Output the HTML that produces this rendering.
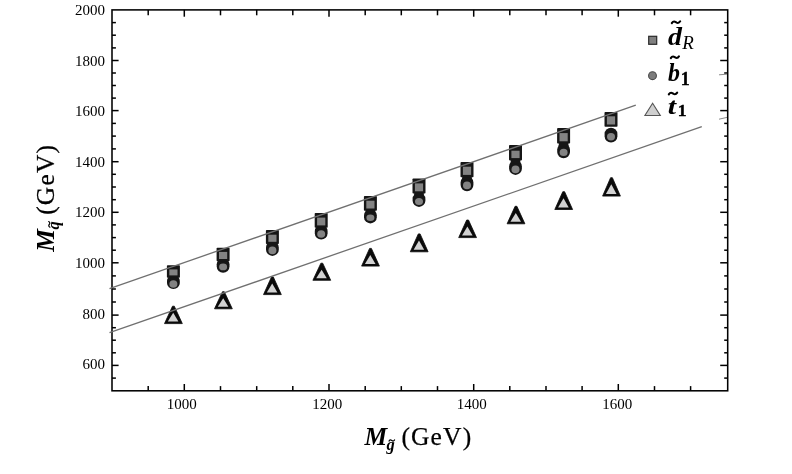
<!DOCTYPE html>
<html><head><meta charset="utf-8"><title>chart</title>
<style>
html,body{margin:0;padding:0;background:#fff;}
body{width:792px;height:474px;overflow:hidden;font-family:"Liberation Serif",serif;}
svg{display:block;will-change:transform;filter:blur(0.4px);}
text{font-family:"Liberation Serif",serif;fill:#000;}
</style></head><body>
<svg width="792" height="474" viewBox="0 0 792 474">
<rect width="792" height="474" fill="#fff"/>
<rect x="112.0" y="9.9" width="615.7" height="380.9" fill="none" stroke="#000" stroke-width="1.55"/>
<g stroke="#000" stroke-width="1.5">
<line x1="148.2" y1="390.8" x2="148.2" y2="386.1"/><line x1="148.2" y1="9.9" x2="148.2" y2="15.3"/>
<line x1="184.3" y1="390.8" x2="184.3" y2="384.0"/><line x1="184.3" y1="9.9" x2="184.3" y2="16.7"/>
<line x1="220.5" y1="390.8" x2="220.5" y2="386.1"/><line x1="220.5" y1="9.9" x2="220.5" y2="15.3"/>
<line x1="256.7" y1="390.8" x2="256.7" y2="386.1"/><line x1="256.7" y1="9.9" x2="256.7" y2="15.3"/>
<line x1="292.8" y1="390.8" x2="292.8" y2="386.1"/><line x1="292.8" y1="9.9" x2="292.8" y2="15.3"/>
<line x1="329.0" y1="390.8" x2="329.0" y2="384.0"/><line x1="329.0" y1="9.9" x2="329.0" y2="16.7"/>
<line x1="365.2" y1="390.8" x2="365.2" y2="386.1"/><line x1="365.2" y1="9.9" x2="365.2" y2="15.3"/>
<line x1="401.3" y1="390.8" x2="401.3" y2="386.1"/><line x1="401.3" y1="9.9" x2="401.3" y2="15.3"/>
<line x1="437.5" y1="390.8" x2="437.5" y2="386.1"/><line x1="437.5" y1="9.9" x2="437.5" y2="15.3"/>
<line x1="473.7" y1="390.8" x2="473.7" y2="384.0"/><line x1="473.7" y1="9.9" x2="473.7" y2="16.7"/>
<line x1="509.8" y1="390.8" x2="509.8" y2="386.1"/><line x1="509.8" y1="9.9" x2="509.8" y2="15.3"/>
<line x1="546.0" y1="390.8" x2="546.0" y2="386.1"/><line x1="546.0" y1="9.9" x2="546.0" y2="15.3"/>
<line x1="582.1" y1="390.8" x2="582.1" y2="386.1"/><line x1="582.1" y1="9.9" x2="582.1" y2="15.3"/>
<line x1="618.3" y1="390.8" x2="618.3" y2="384.0"/><line x1="618.3" y1="9.9" x2="618.3" y2="16.7"/>
<line x1="654.5" y1="390.8" x2="654.5" y2="386.1"/><line x1="654.5" y1="9.9" x2="654.5" y2="15.3"/>
<line x1="690.6" y1="390.8" x2="690.6" y2="386.1"/><line x1="690.6" y1="9.9" x2="690.6" y2="15.3"/>
<line x1="112.0" y1="378.1" x2="115.9" y2="378.1"/><line x1="727.7" y1="378.1" x2="724.2" y2="378.1"/>
<line x1="112.0" y1="365.4" x2="118.6" y2="365.4"/><line x1="727.7" y1="365.4" x2="720.2" y2="365.4"/>
<line x1="112.0" y1="352.8" x2="115.9" y2="352.8"/><line x1="727.7" y1="352.8" x2="724.2" y2="352.8"/>
<line x1="112.0" y1="340.2" x2="115.9" y2="340.2"/><line x1="727.7" y1="340.2" x2="724.2" y2="340.2"/>
<line x1="112.0" y1="327.7" x2="115.9" y2="327.7"/><line x1="727.7" y1="327.7" x2="724.2" y2="327.7"/>
<line x1="112.0" y1="315.1" x2="118.6" y2="315.1"/><line x1="727.7" y1="315.1" x2="720.2" y2="315.1"/>
<line x1="112.0" y1="302.0" x2="115.9" y2="302.0"/><line x1="727.7" y1="302.0" x2="724.2" y2="302.0"/>
<line x1="112.0" y1="289.0" x2="115.9" y2="289.0"/><line x1="727.7" y1="289.0" x2="724.2" y2="289.0"/>
<line x1="112.0" y1="275.9" x2="115.9" y2="275.9"/><line x1="727.7" y1="275.9" x2="724.2" y2="275.9"/>
<line x1="112.0" y1="262.8" x2="118.6" y2="262.8"/><line x1="727.7" y1="262.8" x2="720.2" y2="262.8"/>
<line x1="112.0" y1="250.2" x2="115.9" y2="250.2"/><line x1="727.7" y1="250.2" x2="724.2" y2="250.2"/>
<line x1="112.0" y1="237.6" x2="115.9" y2="237.6"/><line x1="727.7" y1="237.6" x2="724.2" y2="237.6"/>
<line x1="112.0" y1="224.9" x2="115.9" y2="224.9"/><line x1="727.7" y1="224.9" x2="724.2" y2="224.9"/>
<line x1="112.0" y1="212.3" x2="118.6" y2="212.3"/><line x1="727.7" y1="212.3" x2="720.2" y2="212.3"/>
<line x1="112.0" y1="199.7" x2="115.9" y2="199.7"/><line x1="727.7" y1="199.7" x2="724.2" y2="199.7"/>
<line x1="112.0" y1="187.0" x2="115.9" y2="187.0"/><line x1="727.7" y1="187.0" x2="724.2" y2="187.0"/>
<line x1="112.0" y1="174.3" x2="115.9" y2="174.3"/><line x1="727.7" y1="174.3" x2="724.2" y2="174.3"/>
<line x1="112.0" y1="161.7" x2="118.6" y2="161.7"/><line x1="727.7" y1="161.7" x2="720.2" y2="161.7"/>
<line x1="112.0" y1="148.9" x2="115.9" y2="148.9"/><line x1="727.7" y1="148.9" x2="724.2" y2="148.9"/>
<line x1="112.0" y1="136.1" x2="115.9" y2="136.1"/><line x1="727.7" y1="136.1" x2="724.2" y2="136.1"/>
<line x1="112.0" y1="123.4" x2="115.9" y2="123.4"/><line x1="727.7" y1="123.4" x2="724.2" y2="123.4"/>
<line x1="112.0" y1="110.6" x2="118.6" y2="110.6"/><line x1="727.7" y1="110.6" x2="720.2" y2="110.6"/>
<line x1="112.0" y1="98.1" x2="115.9" y2="98.1"/><line x1="727.7" y1="98.1" x2="724.2" y2="98.1"/>
<line x1="112.0" y1="85.5" x2="115.9" y2="85.5"/><line x1="727.7" y1="85.5" x2="724.2" y2="85.5"/>
<line x1="112.0" y1="73.0" x2="115.9" y2="73.0"/><line x1="727.7" y1="73.0" x2="724.2" y2="73.0"/>
<line x1="112.0" y1="60.5" x2="118.6" y2="60.5"/><line x1="727.7" y1="60.5" x2="720.2" y2="60.5"/>
<line x1="112.0" y1="47.9" x2="115.9" y2="47.9"/><line x1="727.7" y1="47.9" x2="724.2" y2="47.9"/>
<line x1="112.0" y1="35.2" x2="115.9" y2="35.2"/><line x1="727.7" y1="35.2" x2="724.2" y2="35.2"/>
<line x1="112.0" y1="22.6" x2="115.9" y2="22.6"/><line x1="727.7" y1="22.6" x2="724.2" y2="22.6"/>
</g>
<g font-size="15">
<text x="181.7" y="409.2" text-anchor="middle">1000</text>
<text x="327.2" y="409.2" text-anchor="middle">1200</text>
<text x="471.7" y="409.2" text-anchor="middle">1400</text>
<text x="617.3" y="409.2" text-anchor="middle">1600</text>
<text x="104.9" y="369.1" text-anchor="end">600</text>
<text x="104.9" y="318.9" text-anchor="end">800</text>
<text x="104.9" y="267.9" text-anchor="end">1000</text>
<text x="104.9" y="217.4" text-anchor="end">1200</text>
<text x="104.9" y="167.2" text-anchor="end">1400</text>
<text x="104.9" y="116.1" text-anchor="end">1600</text>
<text x="104.9" y="65.6" text-anchor="end">1800</text>
<text x="104.9" y="15.2" text-anchor="end">2000</text>
</g>
<g>
<rect x="167.0" y="274.9" width="12.8" height="14.2" rx="6.4" ry="6.2" fill="#161616"/><rect x="168.6" y="276.1" width="9.6" height="1.8" fill="#161616"/><rect x="166.9" y="265.2" width="13" height="12.5" rx="0.8" fill="#161616"/><rect x="169.3" y="269.4" width="8.2" height="6.0" fill="#838383"/><ellipse cx="173.4" cy="284.0" rx="4.0" ry="3.8" fill="#838383"/>
<rect x="216.7" y="258.1" width="12.8" height="14.7" rx="6.4" ry="6.2" fill="#161616"/><rect x="218.3" y="259.7" width="9.6" height="1.4" fill="#161616"/><rect x="216.6" y="247.7" width="13" height="13.6" rx="0.8" fill="#161616"/><rect x="219.0" y="251.9" width="8.2" height="7.1" fill="#838383"/><ellipse cx="223.1" cy="266.9" rx="4.0" ry="3.4" fill="#838383"/>
<rect x="266.0" y="241.3" width="12.8" height="14.6" rx="6.4" ry="6.2" fill="#161616"/><rect x="267.6" y="242.5" width="9.6" height="1.8" fill="#161616"/><rect x="265.9" y="230.1" width="13" height="14.0" rx="0.8" fill="#161616"/><rect x="268.3" y="234.7" width="8.2" height="7.1" fill="#838383"/><ellipse cx="272.4" cy="250.4" rx="4.0" ry="3.8" fill="#838383"/>
<rect x="314.8" y="224.9" width="12.8" height="14.6" rx="6.4" ry="6.2" fill="#161616"/><rect x="316.4" y="226.1" width="9.6" height="1.8" fill="#161616"/><rect x="314.7" y="212.9" width="13" height="14.8" rx="0.8" fill="#161616"/><rect x="317.1" y="217.6" width="8.2" height="7.8" fill="#838383"/><ellipse cx="321.2" cy="234.0" rx="4.0" ry="3.8" fill="#838383"/>
<rect x="364.0" y="209.1" width="12.8" height="14.3" rx="6.4" ry="6.2" fill="#161616"/><rect x="365.6" y="209.2" width="9.6" height="2.9" fill="#161616"/><rect x="363.9" y="196.1" width="13" height="14.7" rx="0.8" fill="#161616"/><rect x="366.3" y="200.7" width="8.2" height="7.8" fill="#838383"/><ellipse cx="370.4" cy="217.7" rx="4.0" ry="3.3" fill="#838383"/>
<rect x="412.6" y="192.7" width="12.8" height="14.2" rx="6.4" ry="6.2" fill="#161616"/><rect x="414.2" y="192.0" width="9.6" height="3.7" fill="#161616"/><rect x="412.5" y="178.5" width="13" height="15.1" rx="0.8" fill="#161616"/><rect x="414.9" y="183.4" width="8.2" height="7.9" fill="#838383"/><ellipse cx="419.0" cy="201.4" rx="4.0" ry="3.5" fill="#838383"/>
<rect x="460.6" y="176.3" width="12.8" height="15.0" rx="6.4" ry="6.2" fill="#161616"/><rect x="462.2" y="175.6" width="9.6" height="3.7" fill="#161616"/><rect x="460.5" y="162.1" width="13" height="15.1" rx="0.8" fill="#161616"/><rect x="462.9" y="166.7" width="8.2" height="8.2" fill="#838383"/><ellipse cx="467.0" cy="185.4" rx="4.0" ry="3.8" fill="#838383"/>
<rect x="509.1" y="160.3" width="12.8" height="14.6" rx="6.4" ry="6.2" fill="#161616"/><rect x="510.7" y="158.8" width="9.6" height="4.5" fill="#161616"/><rect x="509.0" y="144.9" width="13" height="15.5" rx="0.8" fill="#161616"/><rect x="511.4" y="150.7" width="8.2" height="7.4" fill="#838383"/><ellipse cx="515.5" cy="169.4" rx="4.0" ry="3.8" fill="#838383"/>
<rect x="557.2" y="143.4" width="12.8" height="14.9" rx="6.4" ry="6.2" fill="#161616"/><rect x="558.8" y="142.0" width="9.6" height="4.4" fill="#161616"/><rect x="557.1" y="128.1" width="13" height="15.5" rx="0.8" fill="#161616"/><rect x="559.5" y="133.1" width="8.2" height="8.2" fill="#838383"/><ellipse cx="563.6" cy="152.4" rx="4.0" ry="3.6" fill="#838383"/>
<rect x="604.6" y="127.8" width="12.8" height="14.7" rx="6.4" ry="6.2" fill="#161616"/><rect x="604.5" y="112.1" width="13" height="14.7" rx="0.8" fill="#161616"/><rect x="606.9" y="116.3" width="8.2" height="8.2" fill="#838383"/><ellipse cx="611.0" cy="136.8" rx="4.0" ry="3.7" fill="#838383"/>
<polygon points="172.5,306.2 174.3,306.2 182.3,323.6 164.5,323.6" fill="#0a0a0a" stroke="#0a0a0a" stroke-width="0.8" stroke-linejoin="round"/><polygon points="173.2,312.8 167.8,321.5 178.4,321.5" fill="#d2d2d2"/>
<polygon points="222.5,291.7 224.3,291.7 232.3,308.8 214.5,308.8" fill="#0a0a0a" stroke="#0a0a0a" stroke-width="0.8" stroke-linejoin="round"/><polygon points="223.2,298.3 217.8,306.7 228.4,306.7" fill="#d2d2d2"/>
<polygon points="271.5,276.9 273.3,276.9 281.3,294.6 263.5,294.6" fill="#0a0a0a" stroke="#0a0a0a" stroke-width="0.8" stroke-linejoin="round"/><polygon points="272.2,283.5 266.8,292.5 277.4,292.5" fill="#d2d2d2"/>
<polygon points="320.9,263.2 322.7,263.2 330.7,280.3 312.9,280.3" fill="#0a0a0a" stroke="#0a0a0a" stroke-width="0.8" stroke-linejoin="round"/><polygon points="321.6,269.8 316.2,278.2 326.8,278.2" fill="#d2d2d2"/>
<polygon points="369.6,248.4 371.4,248.4 379.4,266.1 361.6,266.1" fill="#0a0a0a" stroke="#0a0a0a" stroke-width="0.8" stroke-linejoin="round"/><polygon points="370.3,255.0 364.9,264.0 375.5,264.0" fill="#d2d2d2"/>
<polygon points="418.3,233.9 420.1,233.9 428.1,251.8 410.3,251.8" fill="#0a0a0a" stroke="#0a0a0a" stroke-width="0.8" stroke-linejoin="round"/><polygon points="419.0,240.5 413.6,249.7 424.2,249.7" fill="#d2d2d2"/>
<polygon points="466.7,220.0 468.5,220.0 476.5,237.6 458.7,237.6" fill="#0a0a0a" stroke="#0a0a0a" stroke-width="0.8" stroke-linejoin="round"/><polygon points="467.4,226.6 462.0,235.5 472.6,235.5" fill="#d2d2d2"/>
<polygon points="515.1,206.3 516.9,206.3 524.9,223.8 507.1,223.8" fill="#0a0a0a" stroke="#0a0a0a" stroke-width="0.8" stroke-linejoin="round"/><polygon points="515.8,212.9 510.4,221.7 521.0,221.7" fill="#d2d2d2"/>
<polygon points="562.8,191.7 564.6,191.7 572.6,209.5 554.8,209.5" fill="#0a0a0a" stroke="#0a0a0a" stroke-width="0.8" stroke-linejoin="round"/><polygon points="563.5,198.3 558.1,207.4 568.7,207.4" fill="#d2d2d2"/>
<polygon points="610.6,177.7 612.4,177.7 620.4,196.1 602.6,196.1" fill="#0a0a0a" stroke="#0a0a0a" stroke-width="0.8" stroke-linejoin="round"/><polygon points="611.3,184.3 605.9,194.0 616.5,194.0" fill="#d2d2d2"/>
</g>
<g stroke="#707070" stroke-width="1.3" fill="none">
<line x1="109.5" y1="288.6" x2="635.8" y2="105.2"/>
<line x1="109.5" y1="332.7" x2="701.8" y2="126.7"/>
</g>
<g stroke="#8a8a8a" stroke-width="1" fill="none">
<line x1="719" y1="74.8" x2="727" y2="74.2"/>
<line x1="719" y1="119.2" x2="727" y2="117.4"/>
</g>
<rect x="648.7" y="36.3" width="8" height="8" fill="#808080" stroke="#2a2a2a" stroke-width="1.2"/>
<circle cx="652.5" cy="75.7" r="3.9" fill="#7c7c7c" stroke="#4a4a4a" stroke-width="1.1"/>
<polygon points="652.6,103.3 644.9,115.5 660.3,115.5" fill="#cfcfcf" stroke="#555" stroke-width="1.1" stroke-linejoin="miter"/>
<text transform="translate(668.0,44.8) scale(1.14,1)" font-size="24.5" font-weight="bold" font-style="italic">d</text>
<text transform="translate(668.0,80.9) scale(0.97,1)" font-size="24.6" font-weight="bold" font-style="italic">b</text>
<text transform="translate(667.8,114.0) scale(1.25,1)" font-size="24" font-weight="bold" font-style="italic">t</text>
<text transform="translate(682.2,48.6) scale(1.05,1)" font-size="18" font-style="italic">R</text>
<text transform="translate(680.8,84.6) scale(1.0,1)" font-size="18" font-weight="bold" stroke="#000" stroke-width="0.4">1</text>
<text transform="translate(677.8,116.4) scale(1.0,1)" font-size="17.6" font-weight="bold" stroke="#000" stroke-width="0.4">1</text>
<path d="M671.8,23.1 C673.5,20.4 675.2,21.7 676.0,22.2 S678.5,24.0 680.2,21.3" fill="none" stroke="#000" stroke-width="2.1" stroke-linecap="round"/>
<path d="M670.8,58.1 C672.4,55.4 674.1,56.7 674.9,57.2 S677.4,59.0 679.0,56.3" fill="none" stroke="#000" stroke-width="2.1" stroke-linecap="round"/>
<path d="M668.8,94.4 C670.5,91.7 672.2,93.0 673.0,93.5 S675.5,95.3 677.2,92.6" fill="none" stroke="#000" stroke-width="2.1" stroke-linecap="round"/>
<g transform="translate(364.4,445.4)">
<text x="0" y="0" font-weight="bold" font-style="italic" font-size="25.5">M</text>
<text x="22.2" y="4.6" font-weight="bold" font-style="italic" font-size="16.5">g</text>
<path d="M24.6,-4.3 C25.7,-6.1 26.8,-5.3 27.4,-4.9 S29.1,-3.7 30.2,-5.5" fill="none" stroke="#000" stroke-width="1.2" stroke-linecap="round"/>
<text x="37.0" y="0" font-size="25.5" letter-spacing="1.15" stroke="#000" stroke-width="0.25">(GeV)</text>
</g>
<g transform="translate(54.2,251.8) rotate(-90)">
<text x="0" y="0" font-weight="bold" font-style="italic" font-size="25.5">M</text>
<text x="22.2" y="4.6" font-weight="bold" font-style="italic" font-size="16.5">q</text>
<path d="M24.6,-4.3 C25.7,-6.1 26.8,-5.3 27.4,-4.9 S29.1,-3.7 30.2,-5.5" fill="none" stroke="#000" stroke-width="1.2" stroke-linecap="round"/>
<text x="37.0" y="0" font-size="25.5" letter-spacing="1.15" stroke="#000" stroke-width="0.25">(GeV)</text>
</g>
</svg>
</body></html>
